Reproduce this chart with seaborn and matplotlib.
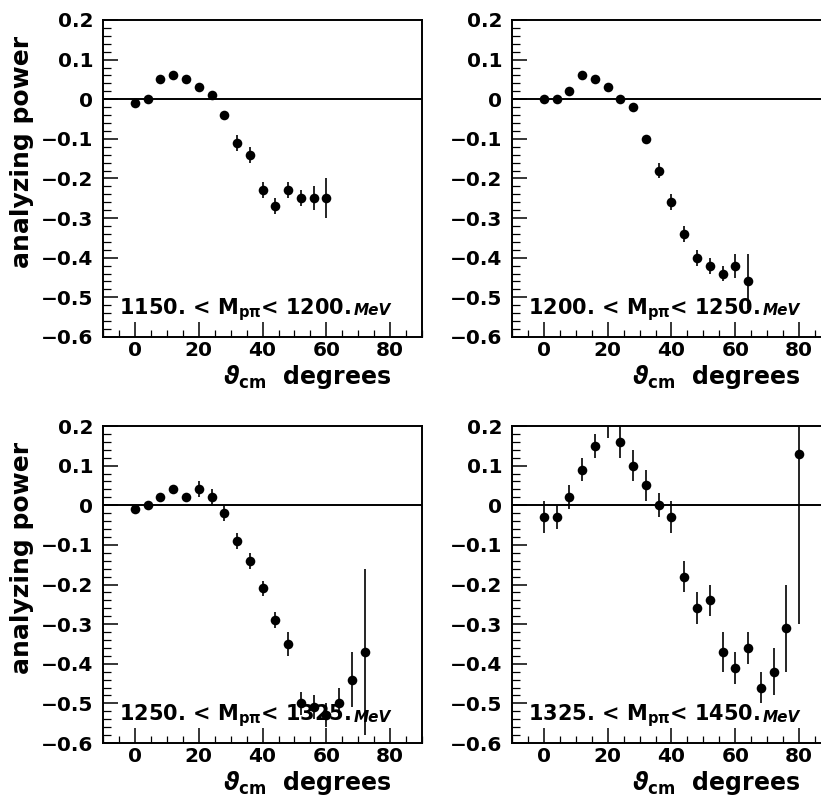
import numpy as np
import pandas as pd
import matplotlib
matplotlib.use("Agg")
import matplotlib.pyplot as plt
from matplotlib.ticker import MultipleLocator, FuncFormatter
import seaborn as sns

# Analyzing power vs. c.m. angle for four invariant-mass bins of the p-pi system
angles_a = [0, 4, 8, 12, 16, 20, 24, 28, 32, 36, 40, 44, 48, 52, 56, 60]
power_a = [-0.01, 0.0, 0.05, 0.06, 0.05, 0.03, 0.01, -0.04, -0.11, -0.14,
           -0.23, -0.27, -0.23, -0.25, -0.25, -0.25]
error_a = [0.008, 0.008, 0.008, 0.008, 0.008, 0.008, 0.008, 0.01, 0.02, 0.02,
           0.02, 0.02, 0.02, 0.02, 0.03, 0.05]

angles_b = [0, 4, 8, 12, 16, 20, 24, 28, 32, 36, 40, 44, 48, 52, 56, 60, 64]
power_b = [0.0, 0.0, 0.02, 0.06, 0.05, 0.03, 0.0, -0.02, -0.10, -0.18,
           -0.26, -0.34, -0.40, -0.42, -0.44, -0.42, -0.46]
error_b = [0.008, 0.008, 0.008, 0.008, 0.008, 0.008, 0.008, 0.01, 0.01, 0.02,
           0.02, 0.02, 0.02, 0.02, 0.02, 0.03, 0.07]

angles_c = [0, 4, 8, 12, 16, 20, 24, 28, 32, 36, 40, 44, 48, 52, 56, 60, 64, 68, 72]
power_c = [-0.01, 0.0, 0.02, 0.04, 0.02, 0.04, 0.02, -0.02, -0.09, -0.14,
           -0.21, -0.29, -0.35, -0.50, -0.51, -0.53, -0.50, -0.44, -0.37]
error_c = [0.008, 0.008, 0.008, 0.01, 0.008, 0.02, 0.02, 0.02, 0.02, 0.02,
           0.02, 0.02, 0.03, 0.03, 0.03, 0.03, 0.04, 0.07, 0.21]

angles_d = [0, 4, 8, 12, 16, 20, 24, 28, 32, 36, 40, 44, 48, 52, 56, 60, 64,
            68, 72, 76, 80]
power_d = [-0.03, -0.03, 0.02, 0.09, 0.15, 0.22, 0.16, 0.10, 0.05, 0.0, -0.03,
           -0.18, -0.26, -0.24, -0.37, -0.41, -0.36, -0.46, -0.42, -0.31, 0.13]
error_d = [0.04, 0.03, 0.03, 0.03, 0.03, 0.05, 0.04, 0.04, 0.04, 0.03, 0.04,
           0.04, 0.04, 0.04, 0.05, 0.04, 0.04, 0.04, 0.06, 0.11, 0.43]

mass_low = ["1150.", "1200.", "1250.", "1325."]
mass_high = ["1200.", "1250.", "1325.", "1450."]

y_ticks = [-0.6, -0.5, -0.4, -0.3, -0.2, -0.1, 0.0, 0.1, 0.2]
x_ticks = [0, 20, 40, 60, 80]

sns.set_theme(style="ticks")
plt.rcParams["font.family"] = ["DejaVu Sans"]
plt.rcParams["font.weight"] = "bold"
plt.rcParams["mathtext.fontset"] = "dejavusans"
plt.rcParams["mathtext.default"] = "bf"
for key in ("text.color", "axes.labelcolor", "xtick.color", "ytick.color",
            "axes.edgecolor"):
    plt.rcParams[key] = "black"

fig = plt.figure(figsize=(8.21, 8.05), dpi=100)

w, h = 0.3886, 0.3938
positions = [
    (0.1255, 0.5814),
    (0.6236, 0.5814),
    (0.1255, 0.0770),
    (0.6236, 0.0770),
]
series = [
    (angles_a, power_a, error_a),
    (angles_b, power_b, error_b),
    (angles_c, power_c, error_c),
    (angles_d, power_d, error_d),
]


def fmt_y(v, _):
    if abs(v) < 1e-9:
        return "0"
    return f"{v:.1f}".replace("-", "\u2212")


for i, ((x0, y0), (ang, pw, er)) in enumerate(zip(positions, series)):
    ax = fig.add_axes([x0, y0, w, h])
    df = pd.DataFrame({"angle": ang, "power": pw, "err": er})

    ax.axhline(0.0, color="black", lw=1.4, zorder=1)
    ax.vlines(df["angle"], df["power"] - df["err"], df["power"] + df["err"],
              color="black", lw=1.2, zorder=2)
    sns.scatterplot(data=df, x="angle", y="power", ax=ax, color="black",
                    s=48, edgecolor="black", linewidth=0, zorder=3, legend=False)

    ax.set_xlim(-10, 90)
    ax.set_ylim(-0.6, 0.2)
    ax.xaxis.set_major_locator(plt.FixedLocator(x_ticks))
    ax.xaxis.set_minor_locator(MultipleLocator(5))
    ax.yaxis.set_major_locator(plt.FixedLocator(y_ticks))
    ax.yaxis.set_minor_locator(MultipleLocator(0.02))
    ax.yaxis.set_major_formatter(FuncFormatter(fmt_y))
    ax.xaxis.set_major_formatter(FuncFormatter(lambda v, _: f"{v:.0f}"))

    ax.tick_params(axis="both", which="both", direction="in", top=False,
                   right=False, colors="black")
    ax.tick_params(axis="y", which="major", length=11, width=1.1, pad=7,
                   labelsize=14.5)
    ax.tick_params(axis="y", which="minor", length=6, width=0.9)
    ax.tick_params(axis="x", which="major", length=11, width=1.1, pad=3,
                   labelsize=14.5)
    ax.tick_params(axis="x", which="minor", length=5, width=0.9)
    for lab in ax.get_xticklabels() + ax.get_yticklabels():
        lab.set_fontweight("heavy")

    for sp in ax.spines.values():
        sp.set_visible(True)
        sp.set_color("black")
        sp.set_linewidth(1.4)

    ax.set_xlabel("")
    ax.set_ylabel("")
    ax.text(0.905, -0.125, r"$\mathit{\vartheta}_{cm}$  degrees",
            transform=ax.transAxes, ha="right", va="center", fontsize=17,
            fontweight="heavy")
    if i % 2 == 0:
        ax.text(-0.255, 0.585, "analyzing power", transform=ax.transAxes,
                rotation=90, ha="center", va="center", fontsize=18,
                fontweight="heavy")

    t1 = ax.text(0.05, 0.045, f"{mass_low[i]} < M$_{{p\\pi}}$< {mass_high[i]}",
                 transform=ax.transAxes, ha="left", va="bottom", fontsize=15,
                 fontweight="heavy", zorder=4)
    ax.annotate("MeV", xy=(1, 0.27), xycoords=t1, xytext=(2, 0),
                textcoords="offset points", ha="left", va="baseline",
                fontsize=11, fontweight="heavy", style="italic", zorder=4)

fig.savefig("out.png", dpi=100, facecolor="white")
